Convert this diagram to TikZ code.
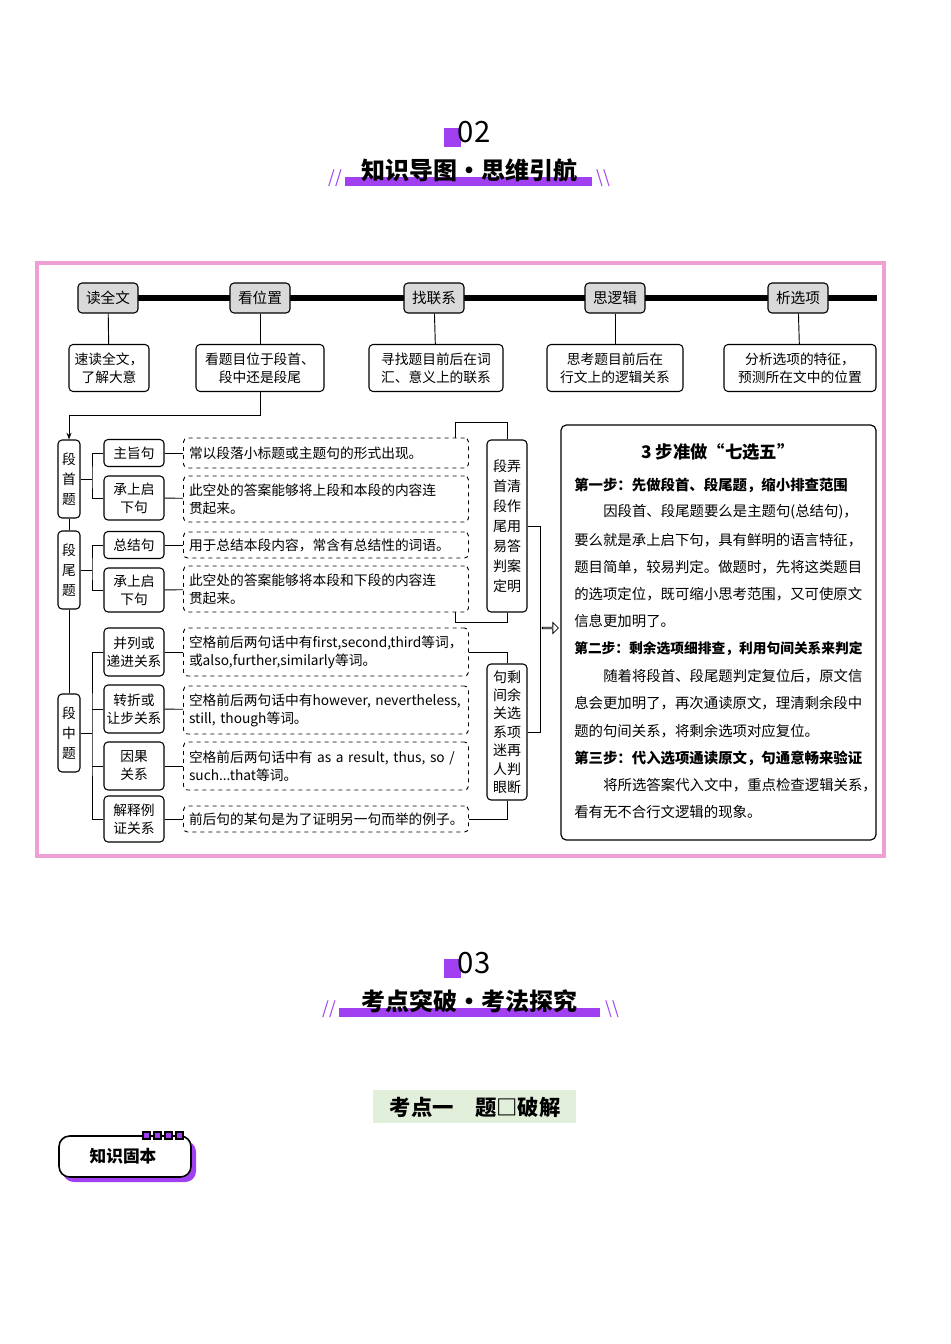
\documentclass[tikz,border=0pt]{standalone}
\usepackage{fontspec}
\setmainfont{Noto Sans CJK SC}
\usetikzlibrary{arrows.meta,shapes.arrows}
\definecolor{pk}{HTML}{EEA0D4}
\definecolor{pu}{HTML}{A040F0}
\definecolor{gb}{HTML}{D9D9D9}
\definecolor{lg}{HTML}{E2EFDA}
\def\PX{*0.75pt}
\tikzset{
 hd/.style={draw,rounded corners=3pt,fill=gb,line width=0.8pt,minimum width=60\PX,minimum height=30\PX,font=\fontsize{11}{12}\selectfont},
 sb/.style={draw,rounded corners=3pt,line width=0.8pt,align=center,font=\fontsize{10.3}{13.5}\selectfont,inner sep=1pt},
 cb/.style={sb,minimum width=60\PX},
 vb/.style={sb,minimum width=22\PX,font=\fontsize{10.3}{15}\selectfont},
 db/.style={draw,dashed,rounded corners=3pt,line width=0.7pt,minimum width=285\PX,align=left,text width=274\PX,font=\fontsize{10.3}{13.5}\selectfont,inner sep=4\PX},
 ln/.style={line width=0.7pt},
 tx/.style={anchor=west,font=\fontsize{10.8}{12}\selectfont,inner sep=0pt},
}
\begin{document}
\begin{tikzpicture}[x=0.75pt,y=-0.75pt]
\useasboundingbox (0,0) rectangle (950,1344);
% ---- section 02
\fill[pu] (444,128) rectangle (461,147);
\node[font=\fontsize{22}{24}\selectfont] (n02) at (474,132) {02};
\fill[pu] (345,177) rectangle (592,186);
\node[font=\bfseries\fontsize{18}{20}\selectfont] (t02) at (469,170) {知识导图·思维引航};
\node[text=pu,font=\fontsize{13}{14}\selectfont] (s1) at (335,178) {//};
\node[text=pu,font=\fontsize{13}{14}\selectfont] (s2) at (603,178) {\textbackslash\textbackslash};
% ---- frame
\draw[pk,line width=2.5pt] (37,263) rectangle (884,856);
\draw[line width=5pt] (78,298) -- (877,298);
\foreach \n/\x/\t in {h1/108/读全文,h2/260/看位置,h3/434/找联系,h4/615/思逻辑,h5/798/析选项}
  \node[hd] (\n) at (\x,298) {\t};
\node[sb,minimum width=80\PX,minimum height=47\PX] (b1) at (109,368) {速读全文，\\了解大意};
\node[sb,minimum width=128\PX,minimum height=47\PX] (b2) at (260,368) {看题目位于段首、\\段中还是段尾};
\node[sb,minimum width=134\PX,minimum height=47\PX] (b3) at (436,368) {寻找题目前后在词\\汇、意义上的联系};
\node[sb,minimum width=136\PX,minimum height=47\PX] (b4) at (615,368) {思考题目前后在\\行文上的逻辑关系};
\node[sb,minimum width=152\PX,minimum height=47\PX] (b5) at (800,368) {分析选项的特征，\\预测所在文中的位置};
\foreach \i in {1,...,5} \draw[ln] (h\i) -- (b\i);
% ---- left column
\node[vb,minimum height=78\PX] (p1) at (69,479) {段\\首\\题};
\node[vb,minimum height=78\PX] (p2) at (69,570) {段\\尾\\题};
\node[vb,minimum height=78\PX] (p3) at (69,733) {段\\中\\题};
\draw[ln,-{Stealth[length=5pt]}] (b2.south) |- (69,415) -- (p1.north);
\draw[ln] (p1) -- (p2); \draw[ln] (p2) -- (p3);
\node[cb,minimum height=27\PX] (c1) at (134,453) {主旨句};
\node[cb,minimum height=44\PX] (c2) at (134,498) {承上启\\下句};
\node[cb,minimum height=27\PX] (c3) at (134,545) {总结句};
\node[cb,minimum height=44\PX] (c4) at (134,590) {承上启\\下句};
\node[cb,minimum height=48\PX] (c5) at (134,652) {并列或\\递进关系};
\node[cb,minimum height=48\PX] (c6) at (134,709) {转折或\\让步关系};
\node[cb,minimum height=48\PX] (c7) at (134,766) {因果\\关系};
\node[cb,minimum height=46\PX] (c8) at (134,819) {解释例\\证关系};
\draw[ln] (p1.east) -- (92,479); \draw[ln] (c1.west) -| (92,479) |- (c2.west);
\draw[ln] (p2.east) -- (92,570); \draw[ln] (c3.west) -| (92,570) |- (c4.west);
\draw[ln] (p3.east) -- (92,733); \draw[ln] (c5.west) -| (92,733) |- (c8.west);
\draw[ln] (c6.west) -- (92,709); \draw[ln] (c7.west) -- (92,766);
\node[db,minimum height=30\PX] (d1) at (326,453) {常以段落小标题或主题句的形式出现。};
\node[db,minimum height=46\PX] (d2) at (326,499) {此空处的答案能够将上段和本段的内容连\\贯起来。};
\node[db,minimum height=26\PX] (d3) at (326,545) {用于总结本段内容，常含有总结性的词语。};
\node[db,minimum height=46\PX] (d4) at (326,589) {此空处的答案能够将本段和下段的内容连\\贯起来。};
\node[db,minimum height=48\PX] (d5) at (326,652) {空格前后两句话中有first,second,third等词，\\或also,further,similarly等词。};
\node[db,minimum height=48\PX] (d6) at (326,710) {空格前后两句话中有however, nevertheless,\\still, though等词。};
\node[db,minimum height=48\PX] (d7) at (326,766) {空格前后两句话中有 as a result, thus, so /\\such...that等词。};
\node[db,minimum height=26\PX] (d8) at (326,819) {前后句的某句是为了证明另一句而举的例子。};
\foreach \i in {1,...,8} \draw[ln] (c\i) -- (d\i);
% ---- right vertical boxes
\node[vb,minimum width=40\PX,minimum height=172\PX,font=\fontsize{10.5}{15}\selectfont] (r1) at (507,526) {段弄\\首清\\段作\\尾用\\易答\\判案\\定明};
\node[vb,minimum width=40\PX,minimum height=136\PX,font=\fontsize{10.5}{13.8}\selectfont] (r2) at (507,732) {句剩\\间余\\关选\\系项\\迷再\\人判\\眼断};
\draw[ln] (455,438) -- (455,422) -| (r1.north);
\draw[ln] (455,612) -- (455,622) -| (r1.south);
\draw[ln] (d5.east) -| (r2.north);
\draw[ln] (d8.east) -| (r2.south);
\draw[ln] (r1.east) -- (540,526) -- (540,732) -- (r2.east);
\node[single arrow,draw,line width=0.6pt,minimum width=11\PX,single arrow head extend=2pt,minimum height=16\PX,inner sep=0pt] (ar) at (550,628) {};
% ---- big box
\node[draw,rounded corners=4pt,line width=0.9pt,minimum width=315\PX,minimum height=415\PX] (big) at (718.5,632.5) {};
\node[font=\bfseries\fontsize{13}{14}\selectfont] (bt) at (718,452) {3 步准做“七选五”};
\node[tx,font=\bfseries\fontsize{10.8}{12}\selectfont] (l1) at (574,485) {第一步：先做段首、段尾题，缩小排查范围};
\node[tx] (l2) at (603,512) {因段首、段尾题要么是主题句(总结句)，};
\node[tx] (l3) at (574,540) {要么就是承上启下句，具有鲜明的语言特征，};
\node[tx] (l4) at (574,567) {题目简单，较易判定。做题时，先将这类题目};
\node[tx] (l5) at (574,594) {的选项定位，既可缩小思考范围，又可使原文};
\node[tx] (l6) at (574,621) {信息更加明了。};
\node[tx,font=\bfseries\fontsize{10.3}{12}\selectfont] (l7) at (574,649) {第二步：剩余选项细排查，利用句间关系来判定};
\node[tx] (l8) at (603,676) {随着将段首、段尾题判定复位后，原文信};
\node[tx] (l9) at (574,703) {息会更加明了，再次通读原文，理清剩余段中};
\node[tx] (l10) at (574,731) {题的句间关系，将剩余选项对应复位。};
\node[tx,font=\bfseries\fontsize{10.8}{12}\selectfont] (l11) at (574,758) {第三步：代入选项通读原文，句通意畅来验证};
\node[tx] (l12) at (603,785) {将所选答案代入文中，重点检查逻辑关系，};
\node[tx] (l13) at (574,812) {看有无不合行文逻辑的现象。};
% ---- section 03
\fill[pu] (444,959) rectangle (461,978);
\node[font=\fontsize{22}{24}\selectfont] (n03) at (474,963) {03};
\fill[pu] (339,1008) rectangle (600,1017);
\node[font=\bfseries\fontsize{18}{20}\selectfont] (t03) at (469,1001) {考点突破·考法探究};
\node[text=pu,font=\fontsize{13}{14}\selectfont] (s3) at (329,1009) {//};
\node[text=pu,font=\fontsize{13}{14}\selectfont] (s4) at (612,1009) {\textbackslash\textbackslash};
\fill[lg] (373,1090) rectangle (576,1123);
\node[font=\bfseries\fontsize{16}{18}\selectfont] (kd) at (475,1107) {考点一\quad 题□破解};
% ---- tag
\fill[pu,rounded corners=8pt] (63,1141) rectangle (196,1182);
\draw[line width=1.2pt,fill=white,rounded corners=8pt] (59,1136) rectangle (191,1177);
\foreach \x in {143,154,165,176} \draw[line width=1pt,fill=pu] (\x,1132) rectangle (\x+7,1139);
\node[font=\bfseries\fontsize{12.5}{14}\selectfont] (tg) at (123,1156) {知识固本};
\end{tikzpicture}
\end{document}
